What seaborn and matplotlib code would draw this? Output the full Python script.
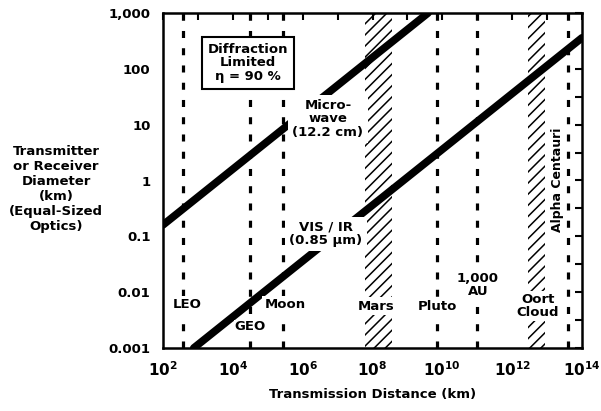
import matplotlib
matplotlib.use('Agg')
import matplotlib.pyplot as plt
import seaborn as sns
from matplotlib.ticker import FixedLocator, FixedFormatter, NullFormatter

# Diameter lines (distance km, diameter km)
mw_dist_km = [1e2, 3.9e9]
microwave_km = [0.16, 1000]
vis_dist_km = [7.6e2, 1e14]
visir_km = [0.001, 360]

# Single destinations (dashed lines)
dest_names = ['LEO', 'GEO', 'Moon', 'Pluto', '1,000\nAU', 'Alpha Centauri']
dest_km = [3.7e2, 3.1e4, 2.8e5, 7e9, 1e11, 4e13]

# Destination ranges (hatched bands)
band_names = ['Mars', 'Oort\nCloud']
band_lo_km = [6.2e7, 2.8e12]
band_hi_km = [3.6e8, 8.9e12]

# Axis ticks
y_ticks = [0.001, 0.01, 0.1, 1, 10, 100, 1000]
y_labels = ['0.001', '0.01', '0.1', '1', '10', '100', '1,000']
x_exps = list(range(2, 15))

sns.set_style('white')
plt.rcParams['font.family'] = ['DejaVu Sans']
plt.rcParams['font.weight'] = 'bold'
plt.rcParams['mathtext.fontset'] = 'dejavusans'
plt.rcParams['hatch.linewidth'] = 1.1
for k in ['text.color', 'axes.labelcolor', 'xtick.color', 'ytick.color']:
    plt.rcParams[k] = 'black'

fig = plt.figure(figsize=(6.01, 4.11), dpi=100)
ax = fig.add_axes([163 / 601, 1 - 348 / 411, 419 / 601, 335 / 411])
ax.set_xscale('log')
ax.set_yscale('log')
ax.set_xlim(1e2, 1e14)
ax.set_ylim(0.001, 1000)

# hatched bands
for lo, hi in zip(band_lo_km, band_hi_km):
    ax.axvspan(lo, hi, facecolor='none', edgecolor='black', hatch='///', lw=0, zorder=1)

# dashed destination lines
for d in dest_km:
    ax.axvline(d, color='black', lw=2.3, linestyle=(0, (2.2, 3.2)), zorder=1)

# diffraction limited lines
sns.lineplot(x=mw_dist_km, y=microwave_km, ax=ax, color='black', lw=5.5, zorder=2)
sns.lineplot(x=vis_dist_km, y=visir_km, ax=ax, color='black', lw=5.5, zorder=2)

white = dict(facecolor='white', edgecolor='none', pad=1.5)
fs = 9.5

def lbl(px, py, s, **kw):
    ax.text((px - 163) / 419, (348 - py) / 335, s, transform=ax.transAxes,
            ha='center', va='center', fontsize=kw.pop('fontsize', fs),
            fontweight='bold', zorder=5, linespacing=1.05, **kw)

lbl(187, 305, dest_names[0], bbox=white)
lbl(250, 326, dest_names[1], bbox=dict(facecolor='white', edgecolor='none', pad=0))
lbl(285, 305, dest_names[2], bbox=white)
lbl(376, 306, band_names[0], bbox=white)
lbl(437, 307, dest_names[3], bbox=white)
lbl(478, 285, dest_names[4], bbox=white)
lbl(538, 306, band_names[1], bbox=white)
lbl(557, 180, dest_names[5], rotation=90, fontsize=9,
    bbox=dict(facecolor='white', edgecolor='none', pad=0.3))
lbl(328, 119, 'Micro-\nwave\n(12.2 cm)', bbox=dict(facecolor='white', edgecolor='none', pad=3))
lbl(326, 234, 'VIS / IR\n(0.85 \u00b5m)', bbox=dict(facecolor='white', edgecolor='none', pad=3))
lbl(248, 63, 'Diffraction\nLimited\n\u03b7 = 90 %',
    bbox=dict(facecolor='white', edgecolor='black', lw=1.5, boxstyle='square,pad=0.45'))

# ticks
ax.xaxis.set_major_locator(FixedLocator([10.0 ** e for e in x_exps]))
ax.xaxis.set_major_formatter(FixedFormatter(
    [r'$\mathbf{10^{%d}}$' % e if e % 2 == 0 else '' for e in x_exps]))
ax.xaxis.set_minor_locator(FixedLocator([]))
ax.yaxis.set_major_locator(FixedLocator(y_ticks))
ax.yaxis.set_major_formatter(FixedFormatter(y_labels))
ax.yaxis.set_minor_locator(FixedLocator([t * 3.162 for t in y_ticks[:-1]]))
ax.yaxis.set_minor_formatter(NullFormatter())
ax.tick_params(which='both', direction='in', top=True, right=True,
               length=5, width=1.5, color='black')
ax.tick_params(axis='y', labelsize=9.5, pad=9)
ax.tick_params(axis='x', labelsize=11, pad=9)
for t in ax.get_xticklabels() + ax.get_yticklabels():
    t.set_fontweight('bold')

for sp in ax.spines.values():
    sp.set_color('black')
    sp.set_linewidth(1.8)

ax.set_xlabel('Transmission Distance (km)', fontsize=9.5, fontweight='bold', labelpad=6)
fig.text(56 / 601, 1 - 189 / 411,
         'Transmitter\nor Receiver\nDiameter\n(km)\n(Equal-Sized\nOptics)',
         ha='center', va='center', fontsize=9.5, fontweight='bold', linespacing=1.2)

fig.savefig('out.png', dpi=100)
